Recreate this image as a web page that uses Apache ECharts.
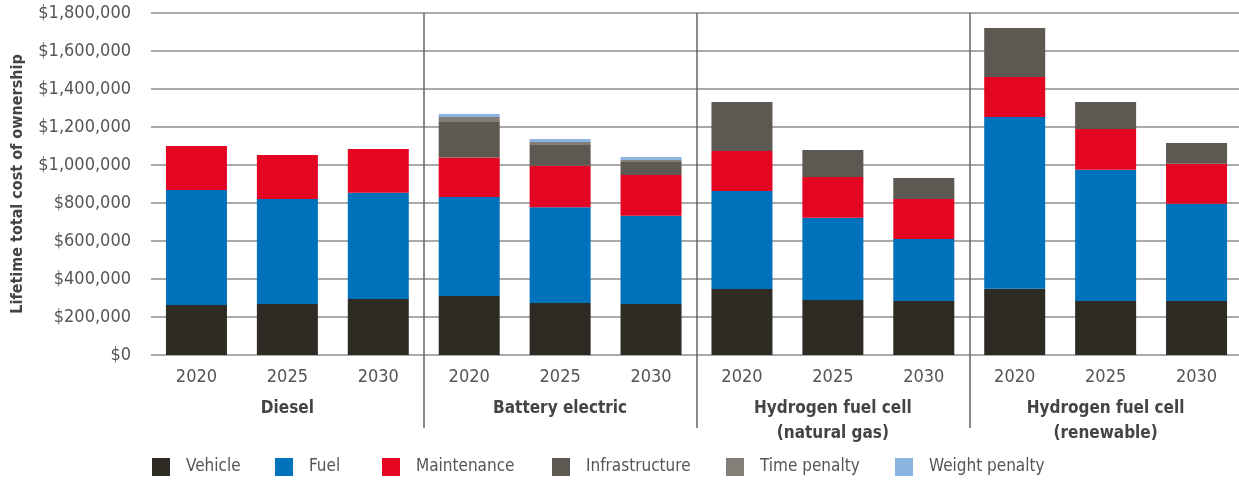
<!DOCTYPE html>
<html>
<head>
<meta charset="utf-8">
<script src="https://cdn.jsdelivr.net/npm/echarts@6/dist/echarts.min.js"></script>
<style>
html,body{margin:0;padding:0;background:#fff;}
#chart{width:1239px;height:482px;}
</style>
</head>
<body>
<div id="chart"></div>
<script>
const years = ['2020','2025','2030','2020','2025','2030','2020','2025','2030','2020','2025','2030'];
const groups = ['Diesel','Battery electric','Hydrogen fuel cell\n(natural gas)','Hydrogen fuel cell\n(renewable)'];
const vehicle = [263000,268000,295000, 310000,274000,268000, 347000,289000,284000, 349000,284000,284000];
const fuel = [605000,553000,559000, 522000,503000,465000, 516000,434000,326000, 904000,691000,512000];
const maintenance = [232000,231000,230000, 208000,219000,214000, 211000,214000,211000, 210000,214000,211000];
const infrastructure = [null,null,null, 186000,109000,69000, 258000,142000,111000, 258000,143000,109000];
const timePenalty = [null,null,null, 27000,16000,10000, null,null,null, null,null,null];
const weightPenalty = [null,null,null, 15000,16000,16000, null,null,null, null,null,null];
const yTicks = {min:0, max:1800000, interval:200000};

const FONT = "'DejaVu Sans Condensed','Liberation Sans Narrow',sans-serif";
const seriesDefs = [
  ['Vehicle', vehicle, '#2e2b24'],
  ['Fuel', fuel, '#0072bb'],
  ['Maintenance', maintenance, '#e30521'],
  ['Infrastructure', infrastructure, '#5d5851'],
  ['Time penalty', timePenalty, '#847e78'],
  ['Weight penalty', weightPenalty, '#8cb4e0']
];
const legendLefts = [152, 275, 382, 552, 726, 895];

const chart = echarts.init(document.getElementById('chart'), null, {renderer:'canvas'});
const sepFn = function(idx){ return idx === 3 || idx === 6 || idx === 9; };

chart.setOption({
  animation: false,
  backgroundColor: '#fff',
  grid: {left: 151, right: -3, top: 13, bottom: 127, containLabel: false, outerBoundsMode: 'none'},
  legend: seriesDefs.map((s, i) => ({
    data: [s[0]], left: legendLefts[i], top: 458, padding: 0,
    icon: 'rect', itemWidth: 18, itemHeight: 18, selectedMode: false,
    textStyle: {fontFamily: FONT, fontSize: 17, color: '#555', padding: [0,0,0,11]}
  })),
  xAxis: [
    {
      type: 'category', data: years, position: 'bottom',
      axisLine: {show: false},
      axisTick: {show: true, interval: sepFn, length: 73, lineStyle: {color: '#666', width: 1.5}},
      splitLine: {show: true, interval: sepFn, showMaxLine: false, lineStyle: {color: '#666', width: 1.5}},
      axisLabel: {interval: 0, margin: 13, fontFamily: FONT, fontSize: 18, color: '#555'}
    },
    {
      type: 'category', data: groups, position: 'bottom',
      axisLine: {show: false}, axisTick: {show: false}, splitLine: {show: false},
      axisLabel: {interval: 0, margin: 41, fontFamily: FONT, fontSize: 17, fontWeight: 'bold', color: '#444', lineHeight: 25}
    }
  ],
  yAxis: {
    type: 'value', min: yTicks.min, max: yTicks.max, interval: yTicks.interval,
    name: 'Lifetime total cost of ownership', nameLocation: 'middle', nameGap: 125,
    nameTextStyle: {fontFamily: FONT, fontSize: 16, fontWeight: 'bold', color: '#444'},
    axisLine: {show: false}, axisTick: {show: false},
    splitLine: {show: true, lineStyle: {color: '#8c8c8c', width: 1.5}},
    axisLabel: {margin: 20, fontFamily: FONT, fontSize: 18, color: '#555',
      formatter: v => '$' + v.toLocaleString('en-US')}
  },
  series: seriesDefs.map(s => ({
    name: s[0], type: 'bar', stack: 'total', data: s[1], barWidth: 61,
    xAxisIndex: 0, itemStyle: {color: s[2]}
  }))
});
</script>
</body>
</html>
